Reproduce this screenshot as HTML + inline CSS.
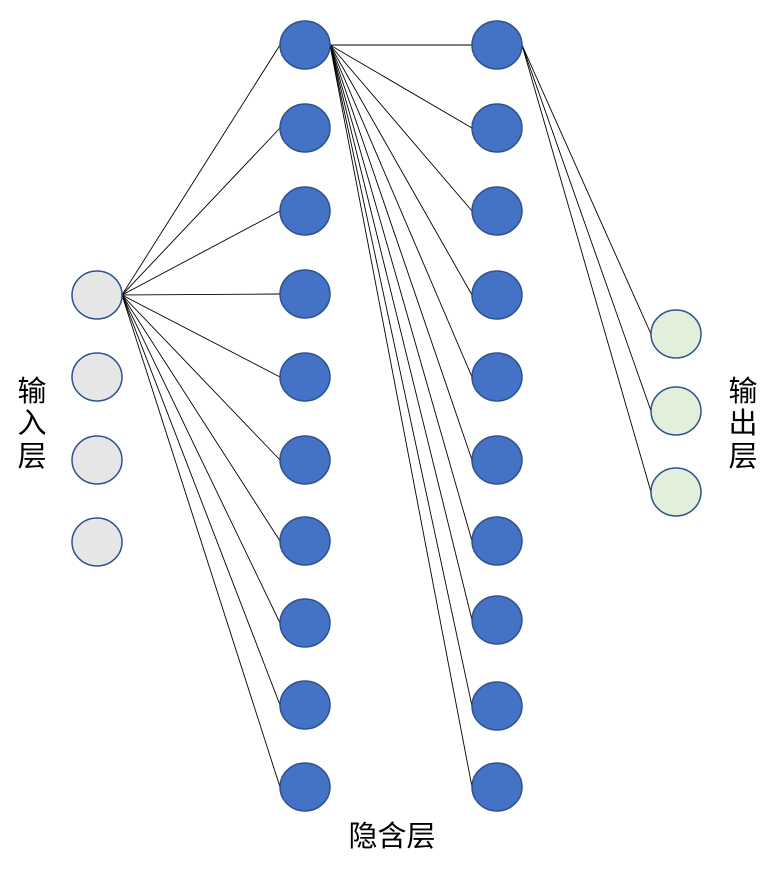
<!DOCTYPE html>
<html><head><meta charset="utf-8"><style>
html,body{margin:0;padding:0;background:#fff;width:773px;height:878px;overflow:hidden}
svg{display:block}
text{font-family:"Liberation Sans","Noto Sans CJK SC",sans-serif;font-size:29px;fill:#000}
</style></head><body>
<svg id="nn" width="773" height="878" viewBox="0 0 773 878" xmlns="http://www.w3.org/2000/svg">
<g id="edges"></g>
<g id="nodes"></g>
<text x="32" y="401" text-anchor="middle">输</text>
<text x="32" y="433" text-anchor="middle">入</text>
<text x="32" y="466" text-anchor="middle">层</text>
<text x="743" y="401" text-anchor="middle">输</text>
<text x="743" y="433" text-anchor="middle">出</text>
<text x="743" y="466" text-anchor="middle">层</text>
<text x="392" y="846" text-anchor="middle">隐含层</text>
</svg>
<script>
const layerX = [97, 305, 497, 676];
const inputY = [295, 377, 460, 542];
const hidden1Y = [45, 128, 211, 294, 377, 460, 541, 623, 705, 787];
const hidden2Y = [45, 128, 211, 295, 377, 460, 541, 620, 706, 787];
const outputY = [334, 411, 492];
const layers = [inputY, hidden1Y, hidden2Y, outputY];
const fills = ['#E7E6E6', '#4472C4', '#4472C4', '#E2EFDA'];
const names = ['input', 'hidden1', 'hidden2', 'output'];
const rx = 25, ry = 24;
const NS = 'http://www.w3.org/2000/svg';
const eg = document.getElementById('edges'), ng = document.getElementById('nodes');
for (let l = 0; l < 3; l++) {
  const x1 = layerX[l] + rx, y1 = layers[l][0];
  layers[l + 1].forEach((y, i) => {
    const ln = document.createElementNS(NS, 'line');
    ln.setAttribute('x1', x1); ln.setAttribute('y1', y1);
    ln.setAttribute('x2', layerX[l + 1] - rx); ln.setAttribute('y2', y);
    ln.setAttribute('stroke', '#000'); ln.setAttribute('stroke-width', '0.9');
    
    
    eg.appendChild(ln);
  });
}
layers.forEach((ys, l) => {
  ys.forEach((y, i) => {
    const e = document.createElementNS(NS, 'ellipse');
    e.setAttribute('cx', layerX[l]); e.setAttribute('cy', y);
    e.setAttribute('rx', rx); e.setAttribute('ry', ry);
    e.setAttribute('fill', fills[l]); e.setAttribute('stroke', '#2F528F'); e.setAttribute('stroke-width', '1.5');
    
    
    ng.appendChild(e);
  });
});
</script>
</body></html>
